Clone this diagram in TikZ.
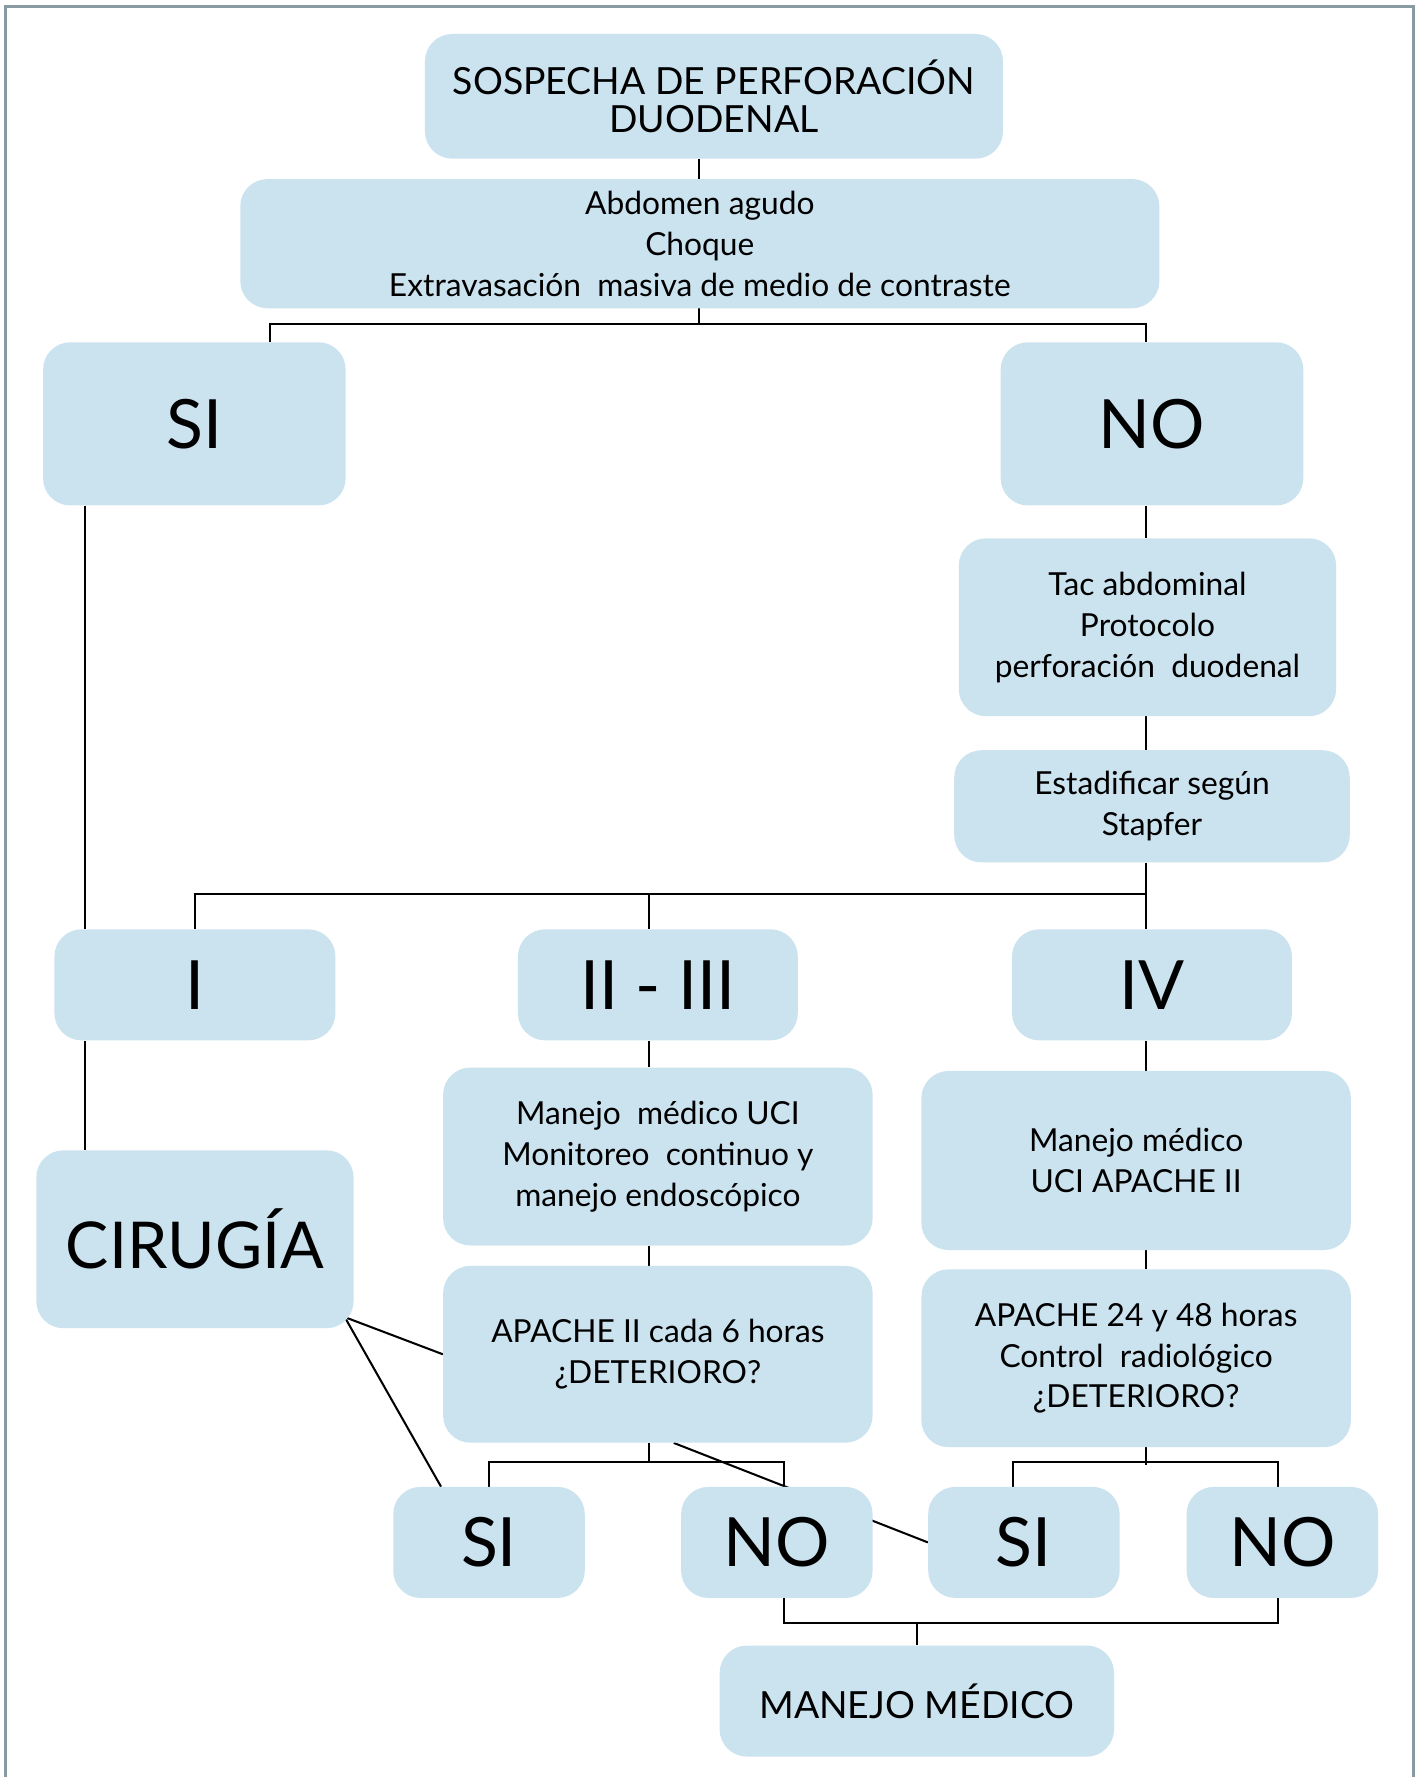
\documentclass[tikz,border=0pt]{standalone}
\usepackage{fontspec}
\setmainfont{Lato}
\usetikzlibrary{calc,backgrounds}
\definecolor{boxblue}{RGB}{203,226,239}
\definecolor{framegray}{RGB}{138,154,163}
\tikzset{
  box/.style={fill=boxblue, rounded corners=24pt, inner sep=0pt, align=center,
    font=\fontsize{28}{36}\selectfont},
  bigbox/.style={box, font=\fontsize{60}{60}\selectfont},
  link/.style={line width=1.8pt},
}
\begin{document}
\begin{tikzpicture}[x=1pt, y=-1pt]
\useasboundingbox (0,0) rectangle (1252,1568);
\draw [framegray, line width=2.6pt] (5,1568) -- (5,6) -- (1247,6) -- (1247,1568);

% boxes
\node [box, minimum width=510, minimum height=110, font=\fontsize{33}{34}\selectfont] (sosp) at (630,85) {SOSPECHA DE PERFORACIÓN\\DUODENAL};
\node [box, minimum width=811, minimum height=114] (abd) at (617.5,215) {Abdomen agudo\\Choque\\Extravasación\ \ masiva de medio de contraste};
\node [bigbox, minimum width=267, minimum height=144] (siA) at (171.5,374) {SI};
\node [bigbox, minimum width=267, minimum height=144] (noA) at (1016.5,374) {NO};
\node [box, minimum width=333, minimum height=157] (tac) at (1012.5,553.5) {Tac abdominal\\Protocolo\\perforación\ \ duodenal};
\node [box, minimum width=349, minimum height=99] (est) at (1016.5,711.5) {Estadificar según\\Stapfer};
\node [bigbox, minimum width=248, minimum height=98] (gI) at (172,869) {I};
\node [bigbox, minimum width=247, minimum height=98] (gII) at (580.5,869) {II - III};
\node [bigbox, minimum width=247, minimum height=98] (gIV) at (1016.5,869) {IV};
\node [bigbox, minimum width=280, minimum height=157, font=\fontsize{57}{57}\selectfont] (cir) at (172,1093.5) {CIRUGÍA};
\node [box, minimum width=379, minimum height=157] (uci) at (580.5,1020.5) {Manejo\ \ médico UCI\\Monitoreo\ \ continuo y\\manejo endoscópico};
\node [box, minimum width=379, minimum height=158] (uciap) at (1002.5,1024) {Manejo médico\\UCI APACHE II};
\node [box, minimum width=379, minimum height=156] (ap6) at (580.5,1195) {APACHE II cada 6 horas\\¿DETERIORO?};
\node [box, minimum width=379, minimum height=157] (ap24) at (1002.5,1198.5) {APACHE 24 y 48 horas\\Control\ \ radiológico\\¿DETERIORO?};
\node [bigbox, minimum width=169, minimum height=98] (siB) at (431.5,1361) {SI};
\node [bigbox, minimum width=169, minimum height=98] (noB) at (685.5,1361) {NO};
\node [bigbox, minimum width=169, minimum height=98] (siC) at (903.5,1361) {SI};
\node [bigbox, minimum width=169, minimum height=98] (noC) at (1131.5,1361) {NO};
\node [box, minimum width=348, minimum height=98, font=\fontsize{33}{36}\selectfont] (mm) at (809,1501) {MANEJO MÉDICO};

% columns and buses
\coordinate (cx) at (617,0);
\coordinate (lx) at (238,0);
\coordinate (sx) at (75,0);
\coordinate (mx) at (573,0);
\coordinate (rx) at (1011,0);
\coordinate (nx) at (692,0);
\coordinate (sc) at (894,0);
\coordinate (nc) at (1128,0);
\coordinate (busA) at (0,286);
\coordinate (busB) at (0,789);
\coordinate (busC) at (0,1290);
\coordinate (busD) at (0,1432);

\begin{scope}[on background layer]
\draw [link] (sosp.south -| cx) -- (abd.north -| cx);
\draw [link] (abd.south -| cx) -- (cx |- busA);
\draw [link] (lx |- siA.north) -- (lx |- busA) -- (rx |- busA) -- (rx |- noA.north);
% left column
\draw [link] (siA.south -| sx) -- (gI.north -| sx);
\draw [link] (gI.south -| sx) -- (cir.north -| sx);
% right column
\draw [link] (noA.south -| rx) -- (tac.north -| rx);
\draw [link] (tac.south -| rx) -- (est.north -| rx);
\draw [link] (est.south -| rx) -- (gIV.north -| rx);
\draw [link] (gIV.south -| rx) -- (uciap.north -| rx);
\draw [link] (uciap.south -| rx) -- (ap24.north -| rx);
\draw [link] (ap24.south -| rx) -- ($(rx |- busC)+(0,3)$);
% stages
\draw [link] (gI.north) -- (gI.north |- busB) -- (rx |- busB);
\draw [link] (mx |- busB) -- (mx |- gII.north);
\draw [link] (mx |- gII.south) -- (mx |- uci.north);
\draw [link] (mx |- uci.south) -- (mx |- ap6.north);
\draw [link] (mx |- ap6.south) -- (mx |- busC);
\draw [link] (siB.north) |- (nx |- busC) -- (nx |- noB.north);
\draw [link] (sc |- siC.north) -- (sc |- busC) -- (nc |- busC) -- (nc |- noC.north);
\draw [link] (nx |- noB.south) -- (nx |- busD) -- (nc |- busD) -- (nc |- noC.south);
\draw [link] (mm.north) -- (mm.north |- busD);
% diagonals
\coordinate (cstart) at ($(cir.south east)+(-8,-10)$);
\draw [link] (cstart) -- (ap6.west);
\draw [link] (cstart) -- ($(siB.north west)!0.5!(siB.north)$);
\draw [link] ($(ap6.south)+(14,0)$) -- (siC.west);
\end{scope}
\end{tikzpicture}
\end{document}
